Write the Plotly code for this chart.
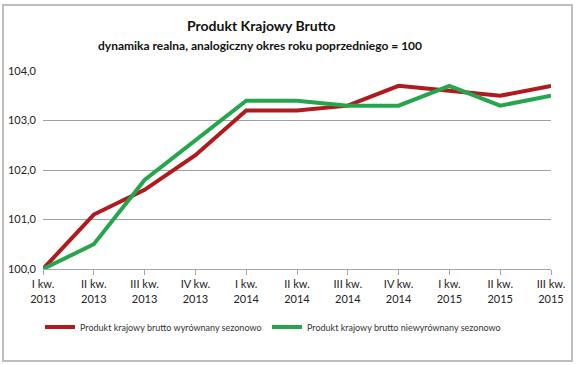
import plotly.graph_objects as go

categories = ["I kw.<br>2013", "II kw.<br>2013", "III kw.<br>2013", "IV kw.<br>2013",
              "I kw.<br>2014", "II kw.<br>2014", "III kw.<br>2014", "IV kw.<br>2014",
              "I kw.<br>2015", "II kw.<br>2015", "III kw.<br>2015"]
sa_values = [100.0, 101.1, 101.6, 102.3, 103.2, 103.2, 103.3, 103.7, 103.6, 103.5, 103.7]
nsa_values = [100.0, 100.5, 101.8, 102.6, 103.4, 103.4, 103.3, 103.3, 103.7, 103.3, 103.5]
sa_name = "Produkt krajowy brutto wyrównany sezonowo"
nsa_name = "Produkt krajowy brutto niewyrównany sezonowo"
y_ticks = [100, 101, 102, 103, 104]

W, H = 577, 365
L, R, T, B = 43, 26, 71, 96
pw, ph = W - L - R, H - T - B

def px(x):
    return (x - L) / pw

def py(y):
    return (H - B - y) / ph

font = "Lato, 'Open Sans', sans-serif"
idx = list(range(len(categories)))

fig = go.Figure()
fig.add_trace(go.Scatter(x=idx, y=sa_values, mode="lines", name=sa_name, legend="legend",
                         line=dict(color="#B01A1C", width=4)))
fig.add_trace(go.Scatter(x=idx, y=nsa_values, mode="lines", name=nsa_name, legend="legend2",
                         line=dict(color="#25A64D", width=4)))

leg_common = dict(orientation="h", xanchor="left", yanchor="middle", itemwidth=30,
                  font=dict(size=9, color="#333333"), bgcolor="rgba(0,0,0,0)")

fig.update_layout(
    width=W, height=H,
    margin=dict(l=L, r=R, t=T, b=B, pad=0, autoexpand=False),
    paper_bgcolor="white", plot_bgcolor="white",
    separators=", ",
    font=dict(family=font, size=11, color="#222222"),
    showlegend=True,
    legend=dict(x=px(40), y=py(327), **leg_common),
    legend2=dict(x=px(267), y=py(327), **leg_common),
    xaxis=dict(range=[0, len(categories) - 1], tickmode="array", tickvals=idx,
               ticktext=categories, showgrid=False, zeroline=False,
               showline=True, linecolor="#A6A6A6", linewidth=1,
               ticks="outside", ticklen=5, tickcolor="#A6A6A6", automargin=False,
               tickfont=dict(size=11, color="#222222"), fixedrange=True),
    yaxis=dict(range=[100, 104], tickvals=y_ticks, tickformat=".1f",
               showgrid=True, gridcolor="#A0A0A0", gridwidth=1, automargin=False,
               zeroline=False, showline=False, ticks="", ticklabelstandoff=6,
               tickfont=dict(size=11, color="#222222"), fixedrange=True),
    shapes=[dict(type="rect", xref="paper", yref="paper",
                 x0=px(3), x1=px(572), y0=py(361), y1=py(5),
                 line=dict(color="#BEBEBE", width=2), layer="below")],
    annotations=[
        dict(text="<b>Produkt Krajowy Brutto</b>", xref="paper", yref="paper",
             x=px(261), y=py(26), xanchor="center", yanchor="middle", showarrow=False,
             font=dict(size=14, color="#111111")),
        dict(text="<b>dynamika realna, analogiczny okres roku poprzedniego = 100</b>",
             xref="paper", yref="paper", x=px(260), y=py(45), xanchor="center",
             yanchor="middle", showarrow=False, font=dict(size=12, color="#111111")),
    ],
)

fig.write_html("out.html", config={"displayModeBar": False},
               post_script="document.body.style.margin='0';document.body.style.padding='0';document.body.style.overflow='hidden';")
